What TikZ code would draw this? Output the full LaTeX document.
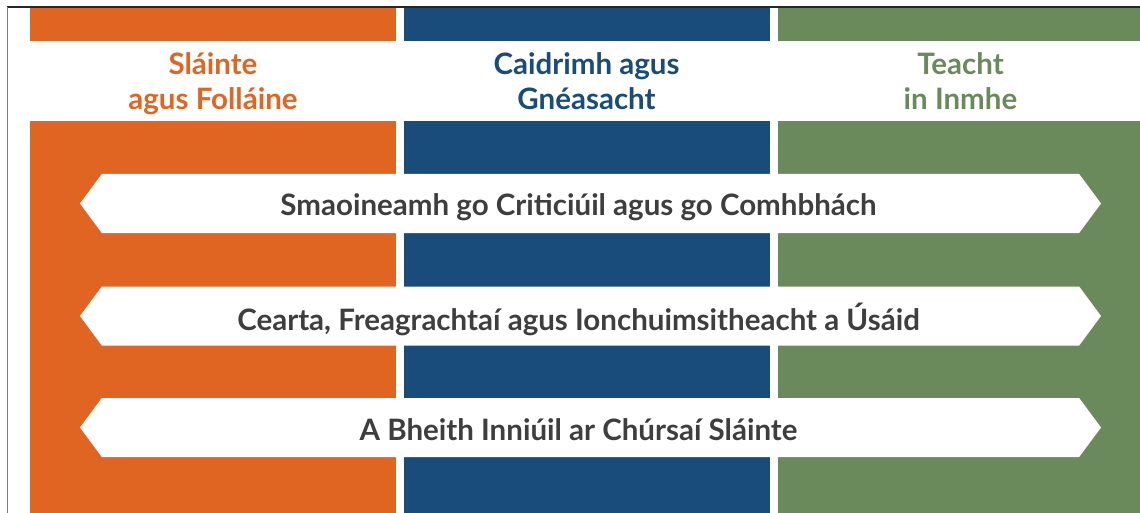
\documentclass[tikz,border=0pt]{standalone}
\usepackage{fontspec}
\setmainfont{Lato}
\usetikzlibrary{shapes.symbols}
\definecolor{slainte}{RGB}{224,101,34}
\definecolor{caidrimh}{RGB}{25,76,122}
\definecolor{teacht}{RGB}{107,138,92}
\definecolor{bannertext}{RGB}{62,62,62}

\begin{document}
\begin{tikzpicture}[x=1pt,y=-1pt,
  colbar/.style={minimum width=366pt,inner sep=0pt,anchor=north west},
  heading/.style={font=\bfseries\fontsize{29.5}{35}\selectfont,align=center,anchor=base},
  banner/.style={signal,signal to=west and east,signal pointer angle=107,fill=white,
    minimum width=1021pt,minimum height=59pt,inner sep=0pt},
  bannerlabel/.style={anchor=base,inner sep=0pt,text=bannertext,
    font=\bfseries\fontsize{29.5}{30}\selectfont}]
\useasboundingbox (0,0) rectangle (1140,513);
\fill[white] (0,0) rectangle (1140,513);
\draw[black!85,line width=1.5pt] (7,7) -- (1140,7);
\draw[gray,line width=1pt] (7,7) -- (7,513);

% columns
\node[colbar,fill=slainte,minimum height=33pt] (slaintetop) at (30,8) {};
\node[colbar,fill=caidrimh,minimum height=33pt] (caidrimhtop) at (403.5,8) {};
\node[colbar,fill=teacht,minimum height=33pt] (teachttop) at (777.5,8) {};
\node[colbar,fill=slainte,minimum height=392pt] (slaintecol) at (30,121) {};
\node[colbar,fill=caidrimh,minimum height=392pt] (caidrimhcol) at (403.5,121) {};
\node[colbar,fill=teacht,minimum height=392pt] (teachtcol) at (777.5,121) {};

\node[heading,text=slainte] (slaintehead) at (213,110) {Sláinte\\agus Folláine};
\node[heading,text=caidrimh] (caidrimhhead) at (586.5,110) {Caidrimh agus\\Gnéasacht};
\node[heading,text=teacht] (teachthead) at (960.5,110) {Teacht\\in Inmhe};

% banners
\node[banner] (smaoineamh) at (590.5,203.5) {};
\node[banner] (cearta) at (590.5,316) {};
\node[banner] (inniuil) at (590.5,427.5) {};
\node[bannerlabel] (smaoineamhtext) at (578.5,215) {Smaoineamh go Criticiúil agus go Comhbhách};
\node[bannerlabel] (ceartatext) at (578.5,330) {Cearta, Freagrachtaí agus Ionchuimsitheacht a Úsáid};
\node[bannerlabel] (inniuiltext) at (578.5,440) {A Bheith Inniúil ar Chúrsaí Sláinte};
\end{tikzpicture}
\end{document}
